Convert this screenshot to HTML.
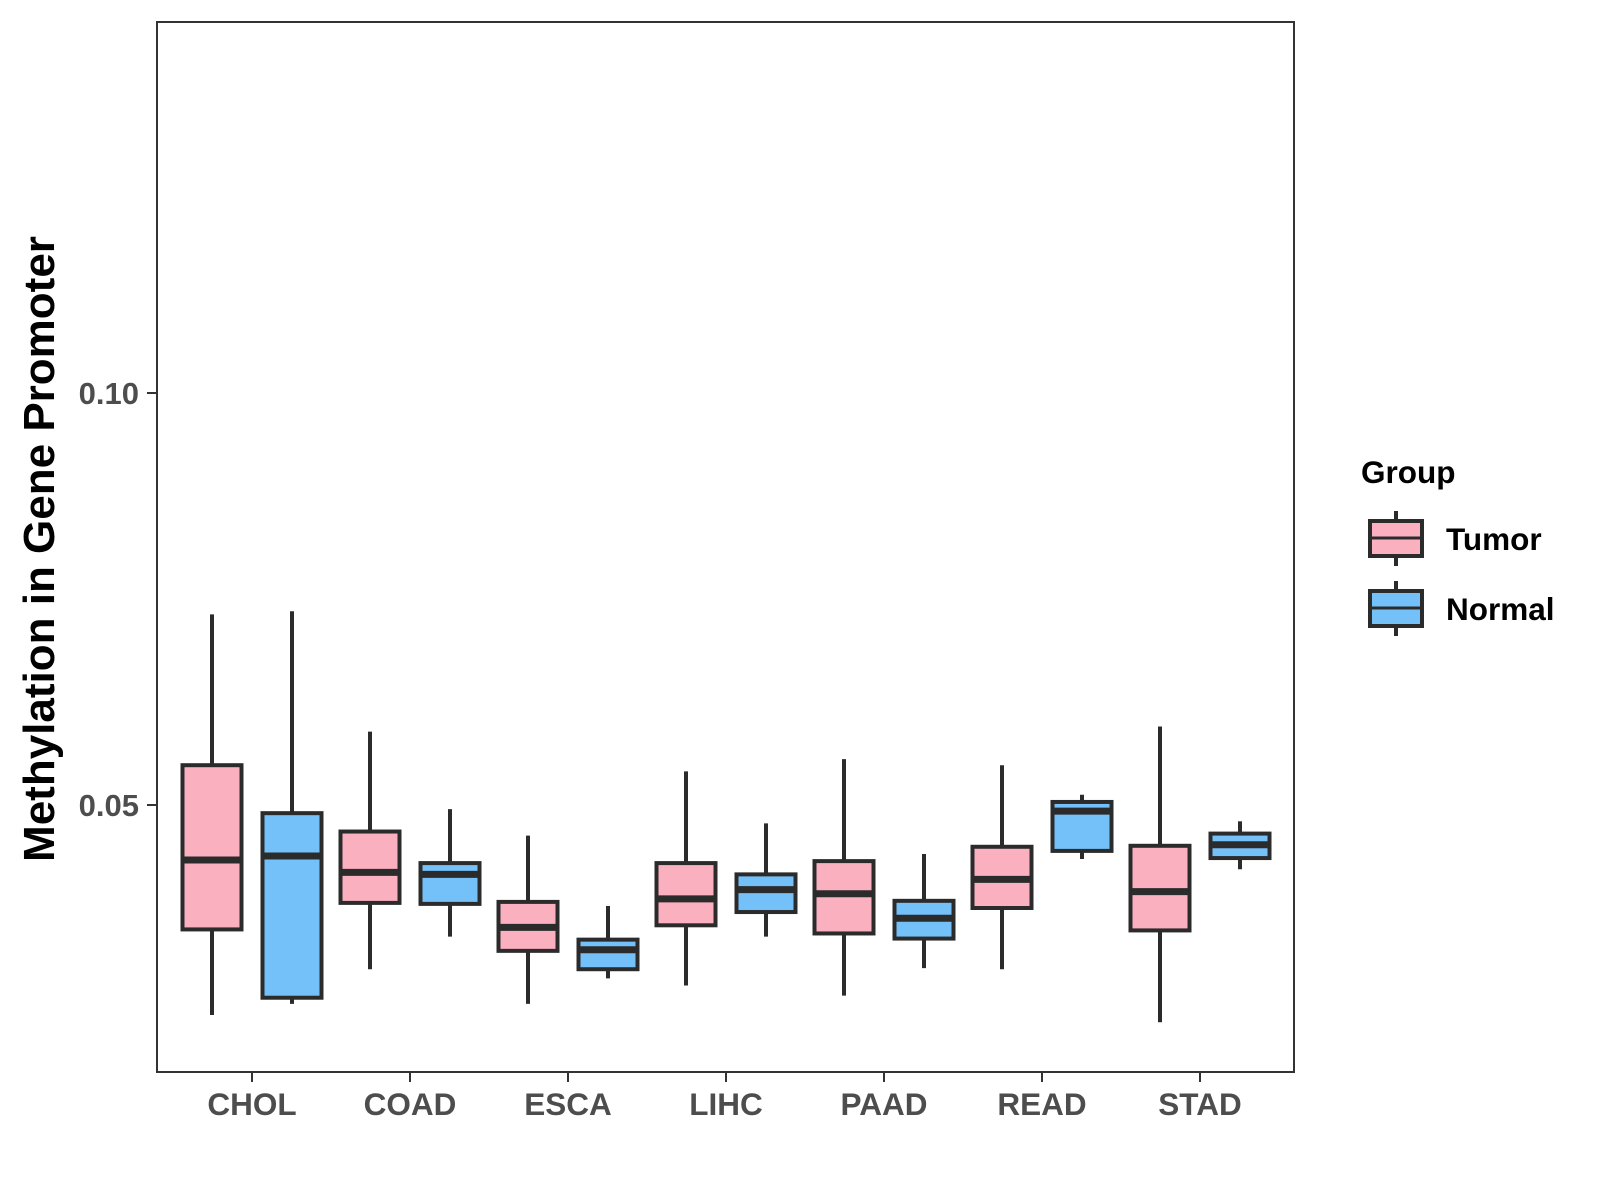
<!DOCTYPE html>
<html><head><meta charset="utf-8"><style>body{margin:0;background:#fff}svg{display:block;font-family:"Liberation Sans",Arial,sans-serif;font-weight:bold}</style></head>
<body>
<svg id="chart" width="1600" height="1200"></svg>
<script>
const categories=["CHOL","COAD","ESCA","LIHC","PAAD","READ","STAD"];
const groups=["Tumor","Normal"];
// [lowerWhisker, q1, median, q3, upperWhisker]
const tumorStats=[[0.02451,0.03490,0.04332,0.05483,0.07314],[0.03007,0.03812,0.04183,0.04678,0.05891],[0.02587,0.03230,0.03515,0.03824,0.04629],[0.02809,0.03540,0.03861,0.04295,0.05408],[0.02686,0.03441,0.03923,0.04319,0.05557],[0.03007,0.03750,0.04097,0.04493,0.05483],[0.02364,0.03478,0.03948,0.04505,0.05953]];
const normalStats=[[0.02587,0.02661,0.04381,0.04901,0.07351],[0.03403,0.03800,0.04158,0.04295,0.04950],[0.02896,0.03007,0.03243,0.03366,0.03775],[0.03403,0.03701,0.03973,0.04158,0.04777],[0.03020,0.03379,0.03626,0.03837,0.04406],[0.04344,0.04443,0.04926,0.05037,0.05124],[0.04220,0.04356,0.04517,0.04653,0.04802]];
const yTicks=[0.05,0.10];
const yTickLabels=["0.05","0.10"];
const fills=["#FBB0C0","#74C0F8"];
const NS="http://www.w3.org/2000/svg";
const svg=document.getElementById('chart');
const L=157,R=1294,T=22,B=1072;
const y=v=>805-(v-0.05)/0.05*412;
const x=i=>252+158*i;
function mk(t,a,p){const e=document.createElementNS(NS,t);for(const k in a)e.setAttribute(k,a[k]);(p||svg).appendChild(e);return e;}
const frame=mk('rect',{x:L,y:T,width:R-L,height:B-T,fill:'none',stroke:'#333',"stroke-width":2});


yTicks.forEach((v,i)=>{
  const g=mk('g',{});
  
  
  mk('line',{x1:L-10,x2:L,y1:y(v),y2:y(v),stroke:'#333',"stroke-width":2},g);
  const t=mk('text',{x:L-18,y:y(v)+11,"text-anchor":"end","font-size":31,fill:'#4d4d4d'},g);t.textContent=yTickLabels[i];
});
categories.forEach((c,i)=>{
  const g=mk('g',{});
  
  
  mk('line',{x1:x(i),x2:x(i),y1:B,y2:B+10,stroke:'#333',"stroke-width":2},g);
  const t=mk('text',{x:x(i),y:B+43,"text-anchor":"middle","font-size":31.5,fill:'#4d4d4d'},g);t.textContent=c;
  [tumorStats[i],normalStats[i]].forEach((s,j)=>{
    const cx=x(i)+(j===0?-40:40),w=59;
    const b=mk('g',{});
    
    
    mk('line',{x1:cx,x2:cx,y1:y(s[4]),y2:y(s[0]),stroke:'#2b2b2b',"stroke-width":4},b);
    mk('rect',{x:cx-w/2,y:y(s[3]),width:w,height:y(s[1])-y(s[3]),fill:fills[j],stroke:'#2b2b2b',"stroke-width":4},b);
    mk('line',{x1:cx-w/2,x2:cx+w/2,y1:y(s[2]),y2:y(s[2]),stroke:'#2b2b2b',"stroke-width":7},b);
  });
});
const yt=mk('text',{transform:'translate(54,549) rotate(-90)',"text-anchor":"middle","font-size":44,fill:'#000'});
yt.textContent='Methylation in Gene Promoter';


const lg=mk('g',{});


const lt=mk('text',{x:1361,y:483,"font-size":31.5,fill:'#000'},lg);lt.textContent='Group';
groups.forEach((gname,j)=>{
  const e=mk('g',{},lg);
  
  
  const top=521+j*70;
  mk('line',{x1:1396,x2:1396,y1:top-10,y2:top+45,stroke:'#2b2b2b',"stroke-width":4},e);
  mk('rect',{x:1370,y:top,width:52,height:35,fill:fills[j],stroke:'#2b2b2b',"stroke-width":4},e);
  mk('line',{x1:1370,x2:1422,y1:top+17,y2:top+17,stroke:'#2b2b2b',"stroke-width":3},e);
  const t=mk('text',{x:1446,y:top+29,"font-size":31.5,fill:'#000'},e);t.textContent=gname;
});
</script>
</body></html>
